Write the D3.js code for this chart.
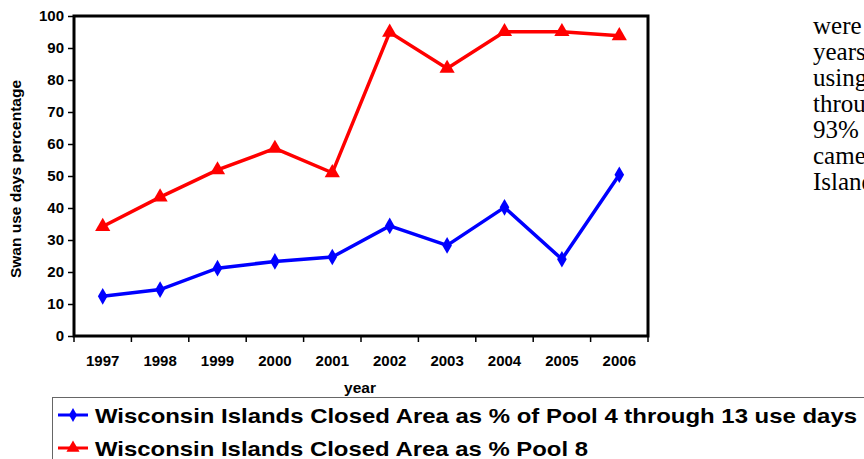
<!DOCTYPE html>
<html lang="en">
<head>
<meta charset="UTF-8">
<title>Swan use days</title>
<script src="https://cdn.jsdelivr.net/npm/d3@7/dist/d3.min.js"></script>
<style>
body { margin: 0; background: #fff; }
svg { display: block; }
.tick text { font-family: Arial, "Liberation Sans", sans-serif; font-weight: bold; font-size: 15px; fill: #000; }
.bold { font-family: Arial, "Liberation Sans", sans-serif; font-weight: bold; }
</style>
</head>
<body>
<script>
const years = ["1997","1998","1999","2000","2001","2002","2003","2004","2005","2006"]
const poolAll = [12.4, 14.5, 21.2, 23.3, 24.7, 34.4, 28.3, 40.2, 24.0, 50.4]
const pool8 = [34.2, 43.4, 51.9, 58.6, 51.0, 94.9, 83.6, 95.1, 95.1, 93.8]
const yTicks = [0,10,20,30,40,50,60,70,80,90,100]
const sideText = ["were", "years", "using", "through", "93%", "came", "Islands"]
const legendLabels = ["Wisconsin Islands Closed Area as % of Pool 4 through 13 use days",
                      "Wisconsin Islands Closed Area as % Pool 8"]

const width = 864, height = 459
const svg = d3.select("body").append("svg").attr("width", width).attr("height", height)

const plotL = 74, plotR = 648, plotT = 16, plotB = 336

const x = d3.scaleBand().domain(years).range([plotL, plotR])
const y = d3.scaleLinear().domain([0, 100]).range([plotB, plotT])

// axes
const yAxis = svg.append("g")
    .attr("transform", `translate(${plotL},0)`)
    .call(d3.axisLeft(y).tickValues(yTicks).tickSize(6).tickPadding(4))
yAxis.select(".domain").remove()
yAxis.selectAll(".tick line").attr("stroke", "#000").attr("stroke-width", 1.5)

const xAxis = svg.append("g")
    .attr("transform", `translate(0,${plotB})`)
    .call(d3.axisBottom(x).tickSize(0))
xAxis.select(".domain").remove()
xAxis.selectAll(".tick text").attr("y", 30).attr("dy", 0)

// category boundary ticks
svg.append("g").selectAll("line")
    .data(years.concat(["end"]))
    .enter().append("line")
    .attr("x1", (d, i) => plotL + i * x.step())
    .attr("x2", (d, i) => plotL + i * x.step())
    .attr("y1", plotB).attr("y2", plotB + 6)
    .attr("stroke", "#000").attr("stroke-width", 1.5)

// frame
svg.append("rect")
    .attr("x", plotL).attr("y", plotT)
    .attr("width", plotR - plotL).attr("height", plotB - plotT)
    .attr("fill", "none").attr("stroke", "#000").attr("stroke-width", 3)

// axis titles
svg.append("text").attr("class", "bold")
    .attr("transform", `translate(21,179) rotate(-90)`)
    .attr("text-anchor", "middle")
    .style("font-size", "15.5px")
    .text("Swan use days percentage")

svg.append("text").attr("class", "bold")
    .attr("x", 360).attr("y", 393)
    .attr("text-anchor", "middle")
    .style("font-size", "15.5px")
    .text("year")

// lines
const line = d3.line()
    .x((d, i) => x(years[i]) + x.bandwidth() / 2)
    .y(d => y(d))

const diamond = d3.symbol().type(d3.symbolDiamond).size(80)
const triangle = d3.symbol().type(d3.symbolTriangle).size(100)

function drawSeries(values, color, sym) {
    svg.append("path").datum(values)
        .attr("d", line)
        .attr("fill", "none").attr("stroke", color).attr("stroke-width", 3.5)
    svg.append("g").selectAll("path")
        .data(values).enter().append("path")
        .attr("d", sym)
        .attr("transform", (d, i) => `translate(${x(years[i]) + x.bandwidth() / 2},${y(d)})`)
        .attr("fill", color)
}
drawSeries(pool8, "#ff0000", triangle)
drawSeries(poolAll, "#0000ff", diamond)

// legend
const legend = svg.append("g")
legend.append("rect")
    .attr("x", 52.5).attr("y", 397.5)
    .attr("width", 830).attr("height", 80)
    .attr("fill", "#fff").attr("stroke", "#666").attr("stroke-width", 1)

const legendColors = ["#0000ff", "#ff0000"]
const legendSyms = [d3.symbol().type(d3.symbolDiamond).size(55), d3.symbol().type(d3.symbolTriangle).size(75)]
const legendLen = [762, 493]
legendLabels.forEach((lab, i) => {
    const ly = 415 + i * 33
    legend.append("line")
        .attr("x1", 58).attr("x2", 88).attr("y1", ly).attr("y2", ly)
        .attr("stroke", legendColors[i]).attr("stroke-width", 3)
    legend.append("path")
        .attr("d", legendSyms[i])
        .attr("transform", `translate(73,${ly})`)
        .attr("fill", legendColors[i])
    legend.append("text").attr("class", "bold")
        .attr("x", 95).attr("y", ly + 8)
        .attr("textLength", legendLen[i]).attr("lengthAdjust", "spacingAndGlyphs")
        .style("font-size", "21px")
        .text(lab)
})

// body text from the page, cut at the right edge
svg.append("g").selectAll("text")
    .data(sideText).enter().append("text")
    .attr("x", 813)
    .attr("y", (d, i) => 34 + i * 26)
    .style("font-family", "'Liberation Serif', 'Times New Roman', serif")
    .style("font-size", "25px")
    .text(d => d)
</script>
</body>
</html>
